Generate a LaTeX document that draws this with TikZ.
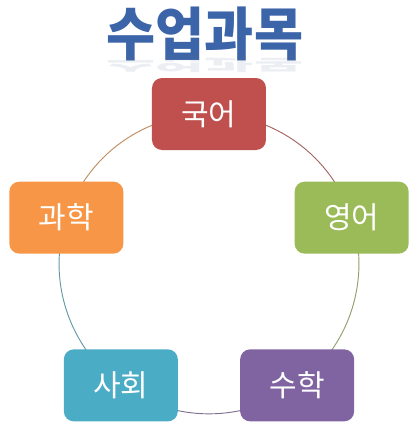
\documentclass[tikz,border=0pt]{standalone}
\usepackage{fontspec}
\newfontfamily\kor{Noto Sans CJK KR}
\usetikzlibrary{backgrounds}
\definecolor{subjred}{HTML}{C0504D}
\definecolor{subjgreen}{HTML}{9BBB59}
\definecolor{subjpurple}{HTML}{8064A2}
\definecolor{subjaqua}{HTML}{4BACC6}
\definecolor{subjorange}{HTML}{F79646}
\definecolor{titleblue}{HTML}{3C64A8}

\begin{document}
\begin{tikzpicture}[x=0.75pt,y=0.75pt,
    subj/.style={rounded corners=7.5pt,minimum width=85.5pt,minimum height=54pt,
      inner sep=0pt,text=white,font=\kor\fontsize{22.5}{22.5}\selectfont},
    ring/.style={line width=.7pt,bend left=36,looseness=.94}]
        \useasboundingbox (0,0) rectangle (417,430);
        % title and its reflection
        \node[font=\kor\bfseries\fontsize{40}{40}\selectfont,text=titleblue,yscale=1.08] (title) at (205,396) {수업과목};
        \node[font=\kor\bfseries\fontsize{40}{40}\selectfont,text=titleblue!50!gray,
              opacity=.12,yscale=-.36] (titlerefl) at (205,366) {수업과목};
        % subjects on the ring
        \begin{scope}[shift={(209,166)}]
            \node[subj,fill=subjred]    (guk)    at (90:150)   {국어};
            \node[subj,fill=subjgreen]  (yeong)  at (18:150)   {영어};
            \node[subj,fill=subjpurple] (suhak)  at (-54:150)  {수학};
            \node[subj,fill=subjaqua]   (sahoe)  at (-126:150) {사회};
            \node[subj,fill=subjorange] (gwahak) at (162:150)  {과학};
        \end{scope}
        \begin{scope}[on background layer]
            \draw[ring,draw=subjred!55!gray]    (guk.center)    to (yeong.center);
            \draw[ring,draw=subjgreen!55!gray]  (yeong.center)  to (suhak.center);
            \draw[ring,draw=subjpurple!55!gray] (suhak.center)  to (sahoe.center);
            \draw[ring,draw=subjaqua!55!gray]   (sahoe.center)  to (gwahak.center);
            \draw[ring,draw=subjorange!55!gray] (gwahak.center) to (guk.center);
        \end{scope}
    \end{tikzpicture}
\end{document}
